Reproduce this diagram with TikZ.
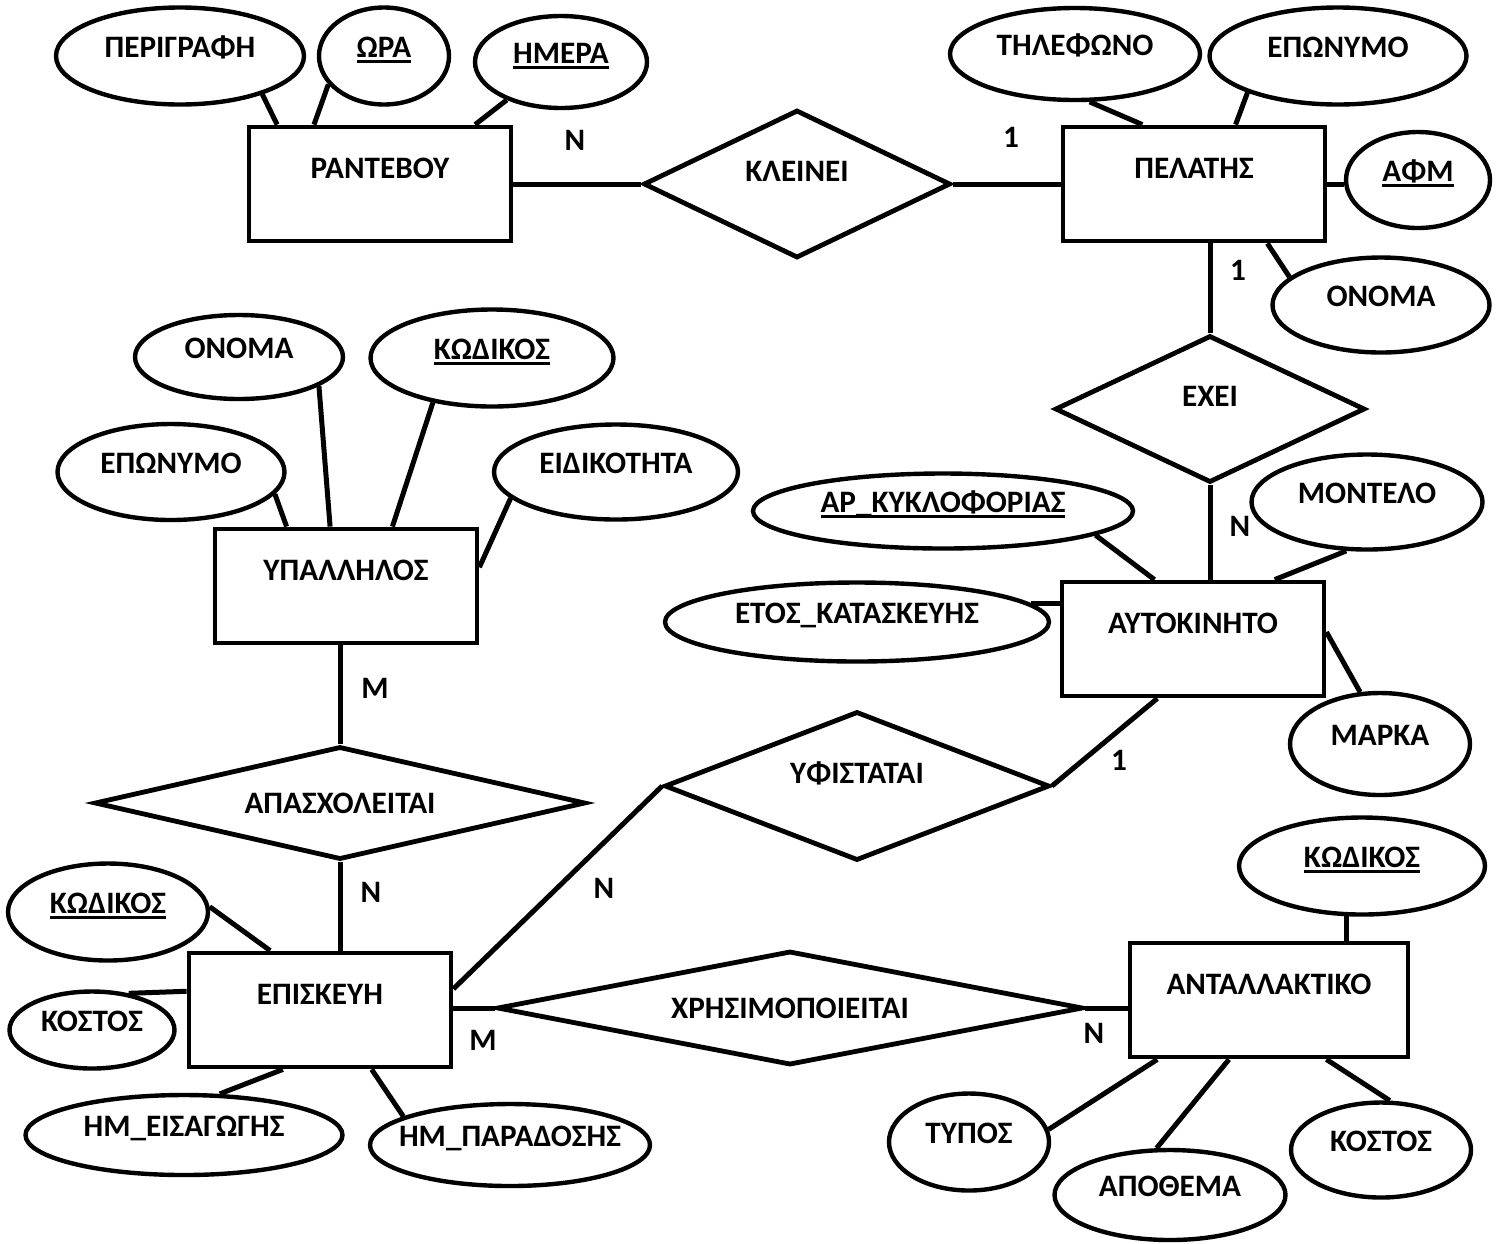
\documentclass[tikz,border=0pt]{standalone}
\usepackage{fontspec}
\setmainfont{Carlito}
\usetikzlibrary{shapes.geometric}
\newcommand{\keyattr}[1]{\setbox0=\hbox{#1}\rlap{\rule[-2.5pt]{\wd0}{1.3pt}}\box0}

\begin{document}
\begin{tikzpicture}[x=0.5pt,y=-0.5pt,font=\fontsize{15.6}{18}\selectfont\bfseries]
  \tikzset{entity/.style={draw,rectangle,line width=2.4pt,minimum width=131pt,minimum height=57pt,
      inner sep=0pt,text height=9.5pt,text depth=15pt},
    relation/.style={draw,diamond,line width=2.4pt,inner sep=0pt,aspect=2},
    lifted/.style={text height=9.5pt,text depth=12pt},
    attr/.style={draw,ellipse,line width=2.2pt,inner sep=0pt,inner xsep=-100pt,
      text height=9.5pt,text depth=8pt},
    card/.style={inner sep=0pt},
    link/.style={line width=2.5pt}}
  \path[use as bounding box] (0,0) rectangle (1502,1243);

  % entities
  \node[entity] (rantevou) at (380,184) {ΡΑΝΤΕΒΟΥ};
  \node[entity] (pelatis) at (1194,184) {ΠΕΛΑΤΗΣ};
  \node[entity] (ypallilos) at (346,586) {ΥΠΑΛΛΗΛΟΣ};
  \node[entity] (aytokinito) at (1193,639) {ΑΥΤΟΚΙΝΗΤΟ};
  \node[entity] (episkevi) at (320,1010) {ΕΠΙΣΚΕΥΗ};
  \node[entity,minimum width=139pt] (antallaktiko) at (1269,1000) {ΑΝΤΑΛΛΑΚΤΙΚΟ};

  % relations
  \node[relation,lifted,minimum width=153.5pt,minimum height=74pt] (kleinei) at (797,184) {ΚΛΕΙΝΕΙ};
  \node[relation,lifted,minimum width=155pt,minimum height=73.5pt] (exei) at (1210,409) {ΕΧΕΙ};
  \node[relation,aspect=4,minimum width=245.5pt,minimum height=56.5pt] (apasx) at (340,803) {ΑΠΑΣΧΟΛΕΙΤΑΙ};
  \node[relation,lifted,minimum width=192.5pt,minimum height=74.5pt] (yfistatai) at (857,786) {ΥΦΙΣΤΑΤΑΙ};
  \node[relation,aspect=4,minimum width=293pt,minimum height=57pt] (xrisim) at (790,1008) {ΧΡΗΣΙΜΟΠΟΙΕΙΤΑΙ};

  % attributes
  \node[attr,minimum width=124pt,minimum height=48.5pt] (perigrafi) at (180,56) {ΠΕΡΙΓΡΑΦΗ};
  \node[attr,minimum width=65pt,minimum height=48.5pt] (ora) at (384,56) {\keyattr{ΩΡΑ}};
  \node[attr,minimum width=86pt,minimum height=46pt] (imera) at (561,62) {\keyattr{ΗΜΕΡΑ}};
  \node[attr,minimum width=125pt,minimum height=46pt] (tilefono) at (1075,54) {ΤΗΛΕΦΩΝΟ};
  \node[attr,minimum width=128.5pt,minimum height=48.5pt] (eponymo) at (1338,56) {ΕΠΩΝΥΜΟ};
  \node[attr,minimum width=72pt,minimum height=48pt] (afm) at (1418,180) {\keyattr{ΑΦΜ}};
  \node[attr,minimum width=108.5pt,minimum height=47.5pt] (onoma) at (1381,305) {ΟΝΟΜΑ};
  \node[attr,minimum width=104pt,minimum height=42pt] (ypname) at (239,357) {ΟΝΟΜΑ};
  \node[attr,minimum width=121.5pt,minimum height=48.5pt] (ypcode) at (492,358) {\keyattr{ΚΩΔΙΚΟΣ}};
  \node[attr,minimum width=113.5pt,minimum height=48pt] (ypsurname) at (171,472) {ΕΠΩΝΥΜΟ};
  \node[attr,minimum width=122pt,minimum height=47.5pt] (eidikotita) at (616,472) {ΕΙΔΙΚΟΤΗΤΑ};
  \node[attr,minimum width=190pt,minimum height=37.5pt] (arkykl) at (943,511) {\keyattr{ΑΡ\_ΚΥΚΛΟΦΟΡΙΑΣ}};
  \node[attr,minimum width=115.5pt,minimum height=47.5pt] (montelo) at (1367,502) {ΜΟΝΤΕΛΟ};
  \node[attr,minimum width=192pt,minimum height=39.5pt] (etos) at (857,622) {ΕΤΟΣ\_ΚΑΤΑΣΚΕΥΗΣ};
  \node[attr,minimum width=90pt,minimum height=51pt] (marka) at (1380,744) {ΜΑΡΚΑ};
  \node[attr,minimum width=100pt,minimum height=48.5pt] (epcode) at (108,912) {\keyattr{ΚΩΔΙΚΟΣ}};
  \node[attr,minimum width=82.5pt,minimum height=38.5pt] (epcost) at (92,1030) {ΚΟΣΤΟΣ};
  \node[attr,minimum width=158.5pt,minimum height=40pt] (imeis) at (184,1135) {ΗΜ\_ΕΙΣΑΓΩΓΗΣ};
  \node[attr,minimum width=140pt,minimum height=41pt] (imparad) at (510,1145) {ΗΜ\_ΠΑΡΑΔΟΣΗΣ};
  \node[attr,minimum width=123pt,minimum height=48.5pt] (ancode) at (1362,866) {\keyattr{ΚΩΔΙΚΟΣ}};
  \node[attr,minimum width=80pt,minimum height=48.5pt] (typos) at (969,1142) {ΤΥΠΟΣ};
  \node[attr,minimum width=115.5pt,minimum height=45pt] (apothema) at (1170,1195) {ΑΠΟΘΕΜΑ};
  \node[attr,minimum width=90pt,minimum height=47.5pt] (ancost) at (1381,1150) {ΚΟΣΤΟΣ};

  % cardinalities
  \node[card] (kleineiN) at (575,140) {N};
  \node[card] (kleinei1) at (1011,137) {1};
  \node[card] (exei1) at (1238,270) {1};
  \node[card] (exeiN) at (1240,526) {N};
  \node[card] (apasxM) at (375,688) {M};
  \node[card] (apasxN) at (371,892) {N};
  \node[card] (yfist1) at (1119,760) {1};
  \node[card] (yfistN) at (604,888) {N};
  \node[card] (xrisimM) at (483,1040) {M};
  \node[card] (xrisimN) at (1094,1033) {N};

  % connectors
  \draw[link] (perigrafi.-25) -- (rantevou.150);
  \draw[link] (ora.-153) -- (rantevou.138);
  \draw[link] (imera.-145) -- (rantevou.32);
  \draw[link] (rantevou) -- (kleinei);
  \draw[link] (kleinei) -- (pelatis);
  \draw[link] (tilefono.-73) -- (pelatis.131);
  \draw[link] (eponymo.-158) -- (pelatis.55);
  \draw[link] (pelatis.east) -- (pelatis.east -| afm.west);
  \draw[link] (onoma.163) -- (pelatis.-39);
  \draw[link] (exei.north) -- (exei.north |- pelatis.south);
  \draw[link] (exei.south) -- (exei.south |- aytokinito.north);
  \draw[link] (arkykl.-9) -- (aytokinito.123);
  \draw[link] (montelo.-113) -- (aytokinito.36);
  \draw[link] (etos.6) -- (etos.6 -| aytokinito.west);
  \draw[link] (marka.111) -- (aytokinito.3);
  \draw[link] (aytokinito.-121) -- (yfistatai.east);
  \draw[link] (yfistatai.west) -- (episkevi.9);
  \draw[link] (ypname.-20) -- (ypallilos.105);
  \draw[link] (ypcode.-143) -- (ypallilos.52);
  \draw[link] (ypsurname.-12) -- (ypallilos.135);
  \draw[link] (eidikotita.-166) -- (ypallilos.8);
  \draw[link] (apasx.north) -- (apasx.north |- ypallilos.south);
  \draw[link] (apasx.south) -- (apasx.south |- episkevi.north);
  \draw[link] (epcode.3) -- (episkevi.130);
  \draw[link] (epcost.45) -- (episkevi.172);
  \draw[link] (imeis.49) -- (episkevi.-122);
  \draw[link] (imparad.165) -- (episkevi.-49);
  \draw[link] (xrisim.west) -- (xrisim.west -| episkevi.east);
  \draw[link] (xrisim.east) -- (xrisim.east -| antallaktiko.west);
  \draw[link] (ancode.-107) -- (ancode.-107 |- antallaktiko.north);
  \draw[link] (typos.9) -- (antallaktiko.-152);
  \draw[link] (apothema.106) -- (antallaktiko.-124);
  \draw[link] (ancost.80) -- (antallaktiko.-46);
\end{tikzpicture}
\end{document}
